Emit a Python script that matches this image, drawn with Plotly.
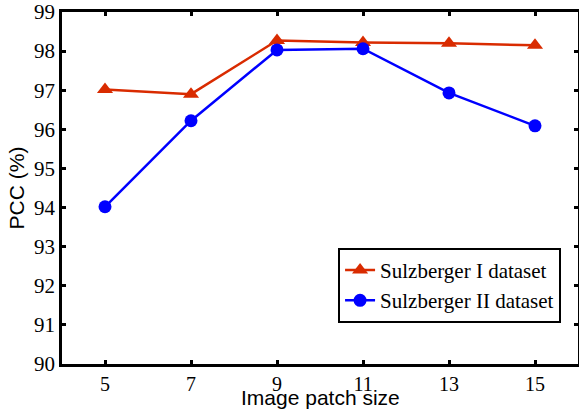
import plotly.graph_objects as go

patch_sizes = [5, 7, 9, 11, 13, 15]
pcc_sulz1 = [97.02, 96.90, 98.27, 98.22, 98.20, 98.15]
pcc_sulz2 = [94.02, 96.22, 98.03, 98.06, 96.93, 96.09]
y_ticks = [90, 91, 92, 93, 94, 95, 96, 97, 98, 99]

fig = go.Figure()
fig.add_trace(go.Scatter(
    x=patch_sizes, y=pcc_sulz1, mode="lines+markers",
    name="Sulzberger I dataset",
    line=dict(color="#D92B00", width=2.5),
    marker=dict(symbol="triangle-up", size=14, color="#D92B00"),
))
fig.add_trace(go.Scatter(
    x=patch_sizes, y=pcc_sulz2, mode="lines+markers",
    name="Sulzberger II dataset",
    line=dict(color="#0000FF", width=2.5),
    marker=dict(symbol="circle", size=13, color="#0000FF"),
))

axis_common = dict(
    showline=True, linewidth=2.5, linecolor="black", mirror="allticks",
    ticks="inside", ticklen=4, tickwidth=2.5, tickcolor="black",
    showgrid=False, zeroline=False, automargin=False,
)

fig.update_layout(
    width=579, height=413,
    margin=dict(l=62, r=1, t=12, b=49),
    paper_bgcolor="white", plot_bgcolor="white",
    xaxis=dict(range=[4, 16], tickvals=patch_sizes,
               tickfont=dict(family="Liberation Serif", size=20, color="black"),
               **axis_common),
    yaxis=dict(range=[90, 99], tickvals=y_ticks,
               tickfont=dict(family="Liberation Serif", size=21, color="black"),
               title=dict(text="PCC (%)", standoff=4,
                          font=dict(family="Liberation Sans", size=21, color="black")),
               **axis_common),
    legend=dict(x=0.535, y=0.33, xanchor="left", yanchor="top",
                bgcolor="white", bordercolor="black", borderwidth=2,
                font=dict(family="Liberation Serif", size=21, color="black"),
                tracegroupgap=0),
    showlegend=True,
    annotations=[dict(text="Image patch size", xref="paper", yref="paper",
                      x=0.5, y=-0.095, xanchor="center", yanchor="middle",
                      showarrow=False,
                      font=dict(family="Liberation Sans", size=21, color="black"))],
)

fig.write_html("out.html",
               config={"displayModeBar": False},
               post_script="document.body.style.margin='0';")
